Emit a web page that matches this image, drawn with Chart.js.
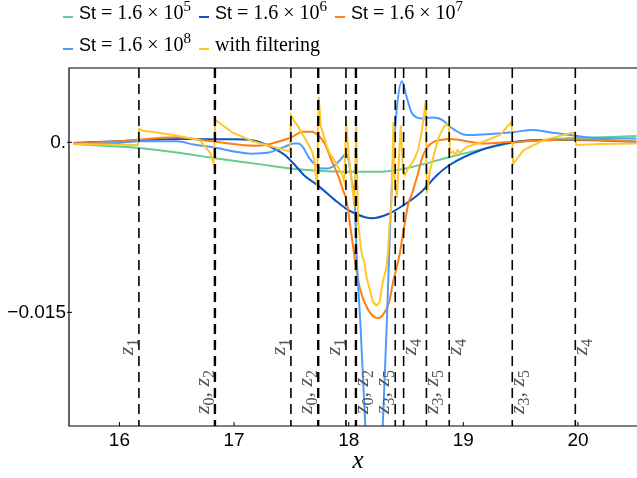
<!DOCTYPE html>
<html>
<head>
<meta charset="utf-8">
<script src="https://cdn.jsdelivr.net/npm/chart.js@4"></script>
<style>
body { margin: 0; background: #fff; }
#wrap { position: relative; width: 637px; height: 478px; }
#legend { position: absolute; left: 0; top: 0; width: 637px; height: 64px; }
.item { position: absolute; height: 24px; line-height: 24px; white-space: nowrap; font: 20px "Liberation Serif", serif; color: #000; }
.sw { position: absolute; left: 0; top: 15px; width: 10px; height: 2px; }
.txt { position: absolute; left: 16px; top: 0; }
.sans { font-family: "Liberation Sans", sans-serif; font-size: 18px; }
.sup { position: relative; top: -8px; font-size: 15px; }
</style>
</head>
<body>
<div id="wrap">
  <canvas id="myChart" width="637" height="478"></canvas>
  <div id="legend"></div>
</div>
<script>
// St = 1.6e5
let st5X = [15.6, 16.17, 16.5, 16.83, 17.2, 17.49, 17.73, 18.0, 18.25, 18.5, 18.66, 18.88, 19.17, 19.46, 19.75, 20.05, 20.51];
let st5Y = [-0.00015, -0.0005, -0.0009, -0.0014, -0.0019, -0.0023, -0.0025, -0.0026, -0.0026, -0.0023, -0.0019, -0.0013, -0.0006, 0.0, 0.00026, 0.0004, 0.00055];
// St = 1.6e6
let st6X = [15.6, 16.0, 16.5, 17.0, 17.2, 17.34, 17.44, 17.53, 17.62, 17.73, 17.88, 17.97, 18.06, 18.2, 18.35, 18.5, 18.63, 18.77, 18.88, 19.15, 19.43, 19.7, 19.98, 20.51];
let st6Y = [-0.00005, 0.0001, 0.0003, 0.00027, 0.0001, -0.0005, -0.0011, -0.002, -0.003, -0.0038, -0.0051, -0.0058, -0.0063, -0.0067, -0.0063, -0.0054, -0.0044, -0.0029, -0.002, -0.0007, 0.0, 0.0002, 0.0002, 0.00005];
// St = 1.6e7
let st7X = [15.6, 16.0, 16.5, 16.83, 17.2, 17.49, 17.6, 17.68, 17.73, 17.79, 17.85, 17.91, 17.95, 17.98, 18.03, 18.07, 18.1, 18.16, 18.22, 18.26, 18.3, 18.35, 18.39, 18.44, 18.48, 18.52, 18.55, 18.6, 18.64, 18.68, 18.74, 18.8, 18.88, 19.18, 19.43, 19.98, 20.51];
let st7Y = [-0.0001, 0.0001, 0.00044, 0.00005, -0.0003, 0.0004, 0.00094, 0.00094, 0.00064, -0.0001, -0.0016, -0.003, -0.0042, -0.0051, -0.0086, -0.0114, -0.013, -0.0146, -0.0154, -0.0155, -0.0152, -0.0142, -0.0122, -0.0101, -0.0077, -0.0054, -0.0046, -0.0029, -0.0014, -0.0005, 0.00005, 0.0002, 0.0003, -0.0001, 0.00005, 0.00026, 0.00005];
// St = 1.6e8
let st8X = [15.6, 16.0, 16.17, 16.5, 16.65, 16.83, 17.0, 17.15, 17.3, 17.44, 17.52, 17.56, 17.6, 17.65, 17.7, 17.76, 17.82, 17.88, 17.94, 17.975, 18.0, 18.025, 18.055, 18.07, 18.105, 18.145, 18.234, 18.297, 18.33, 18.352, 18.375, 18.42, 18.465, 18.5, 18.545, 18.59, 18.65, 18.72, 18.79, 18.84, 18.88, 19.03, 19.17, 19.43, 19.6, 19.75, 19.93, 20.19, 20.51];
let st8Y = [-0.00015, -0.00005, 0.0001, 0.0001, -0.0002, -0.00045, -0.0008, -0.001, -0.0009, -0.0004, -0.0001, -0.0001, -0.0004, -0.0013, -0.0019, -0.0023, -0.0023, -0.002, -0.0014, -0.001, -0.0016, -0.0033, -0.0057, -0.0101, -0.0166, -0.025, -0.042, -0.025, -0.0166, -0.0101, -0.004, 0.003, 0.0054, 0.0042, 0.0027, 0.0022, 0.0021, 0.0022, 0.0021, 0.0018, 0.0014, 0.00065, 0.0007, 0.0009, 0.0011, 0.0009, 0.00065, 0.00035, 0.00035];
// with filtering
let filtX = [15.6, 16.16, 16.172, 16.2, 16.47, 16.7, 16.79, 16.822, 16.836, 16.98, 17.16, 17.34, 17.485, 17.498, 17.53, 17.56, 17.59, 17.62, 17.65, 17.68, 17.7, 17.71, 17.725, 17.738, 17.757, 17.777, 17.806, 17.835, 17.864, 17.908, 17.937, 17.962, 17.978, 18.0, 18.024, 18.05, 18.066, 18.082, 18.112, 18.14, 18.155, 18.184, 18.213, 18.242, 18.271, 18.286, 18.3, 18.33, 18.343, 18.358, 18.373, 18.39, 18.4, 18.42, 18.454, 18.474, 18.489, 18.518, 18.547, 18.576, 18.605, 18.635, 18.657, 18.672, 18.682, 18.707, 18.736, 18.766, 18.794, 18.838, 18.872, 18.884, 18.91, 18.93, 18.95, 18.97, 19.03, 19.175, 19.32, 19.42, 19.435, 19.524, 19.7, 19.97, 19.985, 20.19, 20.51];
let filtY = [-0.00015, -0.00024, 0.0012, 0.00105, 0.00064, 0.0002, -0.0009, -0.0019, 0.002, 0.0009, 0.0001, -0.0004, -0.0008, 0.0024, 0.0018, 0.0014, 0.0008, 0.00035, -0.00024, -0.0008, -0.0016, -0.0026, -0.0038, 0.004, 0.0014, 0.0008, -0.00024, -0.001, -0.0014, -0.0022, -0.0027, -0.0035, 0.0018, -0.0013, -0.0033, -0.0057, 0.0014, -0.0071, -0.0098, -0.0107, -0.0119, -0.013, -0.0141, -0.0144, -0.0141, -0.013, -0.0122, -0.011, -0.0095, -0.0071, -0.0054, 0.0018, -0.0029, -0.0049, 0.0015, -0.0026, -0.0029, -0.0023, -0.0019, -0.0014, -0.0007, 0.0008, 0.0024, 0.0037, -0.0045, -0.0026, -0.0014, -0.0002, 0.00064, 0.0015, 0.0017, -0.001, -0.0008, -0.0011, -0.0007, -0.0009, -0.0004, 0.00005, 0.00065, 0.0018, -0.0019, -0.0007, 0.0002, 0.0009, -0.00024, -0.00015, -0.0001];

let seriesExp = [5, 6, 7, 8];
let seriesColors = ["#63cc8f", "#0b55c6", "#ff7f0f", "#4d9bff", "#ffc62e"];

// dashed marker lines and their labels
let zLineX = [16.17, 16.833, 17.496, 17.734, 17.976, 18.063, 18.406, 18.479, 18.678, 18.877, 19.427, 19.977];
let zLineLabel = ["z_1", "z_0, z_2", "z_1", "z_0, z_2", "z_1", "z_0, z_2", "z_3, z_5", "z_4", "z_3, z_5", "z_4", "z_3, z_5", "z_4"];
let zLabelSide = [-1, -1, -1, -1, -1, 1, -1, 1, 1, 1, 1, 1];

let xTicks = [16, 17, 18, 19, 20];
let yTicks = [-0.015, 0];
let yTickLabels = ["\u22120.015", "0."];

function toPts(xs, ys) {
    return xs.map((x, i) => ({ x: x, y: ys[i] }));
}

// legend (html, so the superscripts stay real text)
let legendItems = seriesExp.map(e => '<span class="sans">St</span> = 1.6 &times; 10<span class="sup">' + e + '</span>');
legendItems.push("with filtering");
let legend = document.getElementById("legend");
legendItems.forEach((html, i) => {
    let row = Math.floor(i / 3), col = i % 3;
    let d = document.createElement("div");
    d.className = "item";
    d.style.left = (63 + col * 136) + "px";
    d.style.top = (1 + row * 32) + "px";
    d.innerHTML = '<span class="sw" style="background:' + seriesColors[i] + '"></span><span class="txt">' + html + '</span>';
    legend.appendChild(d);
});

function drawZLabel(ctx, text, bx, cy) {
    let parts = [];
    text.split(/(z_\d)/).forEach(s => {
        if (!s) return;
        if (s.startsWith("z_")) {
            parts.push({ t: "z", f: 'italic 22px "Liberation Serif"', dy: 0 });
            parts.push({ t: s[2], f: '16px "Liberation Serif"', dy: 5 });
        } else {
            parts.push({ t: s, f: '22px "Liberation Serif"', dy: 0 });
        }
    });
    let w = 0;
    parts.forEach(p => { ctx.font = p.f; p.w = ctx.measureText(p.t).width; w += p.w; });
    ctx.save();
    ctx.translate(bx, cy);
    ctx.rotate(-Math.PI / 2);
    let cx = -w / 2;
    parts.forEach(p => { ctx.font = p.f; ctx.fillText(p.t, cx, p.dy); cx += p.w; });
    ctx.restore();
}

const decor = {
    id: "decor",
    afterDatasetsDraw(chart) {
        let ctx = chart.ctx, a = chart.chartArea, xs = chart.scales.x;
        ctx.save();
        zLineX.forEach((v, i) => {
            let px = xs.getPixelForValue(v);
            let doubled = zLineLabel[i].startsWith("z_0");
            ctx.beginPath();
            ctx.setLineDash([10, 6]);
            ctx.lineWidth = doubled ? 2.4 : 1.6;
            ctx.strokeStyle = "#000";
            ctx.moveTo(px, a.top);
            ctx.lineTo(px, a.bottom);
            ctx.stroke();
            ctx.setLineDash([]);
            ctx.fillStyle = "#555";
            ctx.textBaseline = "alphabetic";
            ctx.textAlign = "left";
            let bx = zLabelSide[i] < 0 ? px - 6 : px + 12;
            let cy = zLineLabel[i].includes(",") ? a.bottom - 34 : a.bottom - 79;
            drawZLabel(ctx, zLineLabel[i], bx, cy);
        });
        ctx.restore();
    },
    afterDraw(chart) {
        let ctx = chart.ctx, a = chart.chartArea, xs = chart.scales.x, ys = chart.scales.y;
        ctx.save();
        ctx.strokeStyle = "#000";
        ctx.lineWidth = 1.2;
        ctx.beginPath();
        ctx.moveTo(a.right, a.top);
        ctx.lineTo(a.left, a.top);
        ctx.lineTo(a.left, a.bottom);
        ctx.lineTo(a.right, a.bottom);
        ctx.stroke();
        ctx.lineWidth = 1;
        ctx.beginPath();
        xTicks.forEach(v => {
            let px = xs.getPixelForValue(v);
            ctx.moveTo(px, a.bottom);
            ctx.lineTo(px, a.bottom - 4);
        });
        yTicks.forEach(v => {
            let py = ys.getPixelForValue(v);
            ctx.moveTo(a.left - 2, py);
            ctx.lineTo(a.left + 3, py);
        });
        ctx.stroke();
        ctx.fillStyle = "#000";
        ctx.font = 'italic 25px "Liberation Serif"';
        ctx.textAlign = "center";
        ctx.textBaseline = "alphabetic";
        ctx.fillText("x", (a.left + a.right) / 2 + 5, 468);
        ctx.restore();
    }
};

let smooth = { pointRadius: 0, borderWidth: 2, fill: false, cubicInterpolationMode: "monotone" };

let chart = new Chart("myChart", {
    type: "line",
    data: {
        datasets: [
            Object.assign({ data: toPts(st5X, st5Y), borderColor: seriesColors[0], order: 5 }, smooth),
            Object.assign({ data: toPts(st6X, st6Y), borderColor: seriesColors[1], order: 4 }, smooth),
            Object.assign({ data: toPts(st7X, st7Y), borderColor: seriesColors[2], order: 3 }, smooth),
            Object.assign({ data: toPts(st8X, st8Y), borderColor: seriesColors[3], order: 2 }, smooth),
            { data: toPts(filtX, filtY), borderColor: seriesColors[4], order: 1, pointRadius: 0, borderWidth: 2, fill: false, tension: 0 },
        ],
    },
    options: {
        responsive: false,
        animation: false,
        devicePixelRatio: 1,
        layout: { padding: { top: 68, left: 0, right: 0, bottom: 0 } },
        plugins: { legend: { display: false }, tooltip: { enabled: false } },
        scales: {
            x: {
                type: "linear",
                min: 15.56,
                max: 20.515,
                grid: { display: false, drawTicks: false, tickLength: 0 },
                border: { display: false },
                afterBuildTicks: s => { s.ticks = xTicks.map(v => ({ value: v })); },
                afterFit: s => { s.height = 52; },
                ticks: {
                    padding: 3,
                    color: "#000",
                    font: { family: "Liberation Sans", size: 19 },
                    maxRotation: 0,
                    callback: v => String(v),
                },
            },
            y: {
                type: "linear",
                min: -0.02503,
                max: 0.00656,
                grid: { display: false, drawTicks: false, tickLength: 0 },
                border: { display: false },
                afterBuildTicks: s => { s.ticks = yTicks.map(v => ({ value: v })); },
                afterFit: s => { s.width = 69; },
                ticks: {
                    padding: 3,
                    color: "#000",
                    font: { family: "Liberation Sans", size: 19 },
                    callback: (v, i) => yTickLabels[i],
                },
            },
        },
    },
    plugins: [decor],
});
</script>
</body>
</html>
